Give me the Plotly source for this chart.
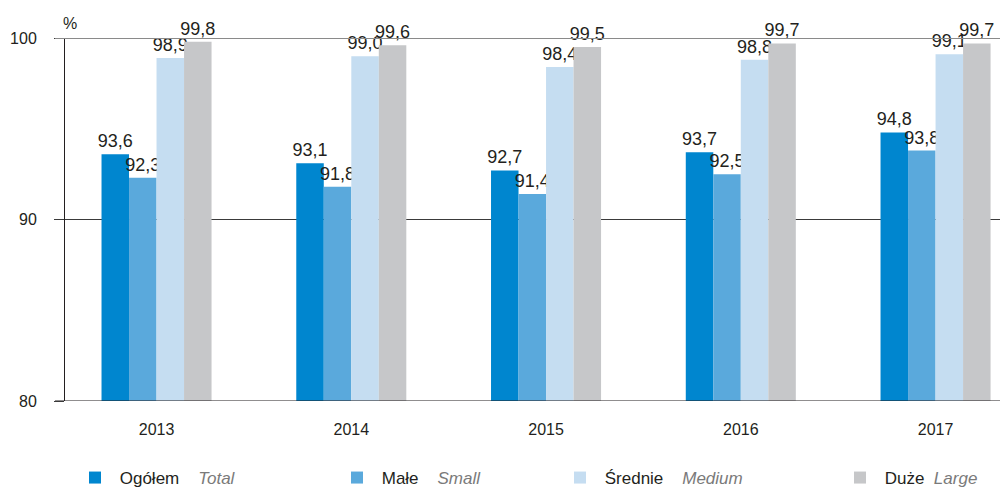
import plotly.graph_objects as go

years = ["2013", "2014", "2015", "2016", "2017"]
ogolem = [93.6, 93.1, 92.7, 93.7, 94.8]
male = [92.3, 91.8, 91.4, 92.5, 93.8]
srednie = [98.9, 99.0, 98.4, 98.8, 99.1]
duze = [99.8, 99.6, 99.5, 99.7, 99.7]

series_pl = ["Ogółem", "Małe", "Średnie", "Duże"]
series_en = ["Total", "Small", "Medium", "Large"]
colors = ["#0086cf", "#5aa9dc", "#c5ddf1", "#c6c7c9"]
values = [ogolem, male, srednie, duze]

FONT = "Liberation Sans, Arial, sans-serif"
TXT = "#231f20"

# page body has an 8px margin, so the figure is sized/placed accordingly
W, H = 1000, 481
L, R, T, B = 57, 0, 30, 88
pw = W - L - R
ph = H - T - B

legend_px = [67, 329, 552, 832]
gaps = [4, 4, 4, 2]

fig = go.Figure()
for i in range(4):
    lg = "legend" if i == 0 else f"legend{i+1}"
    sp = "\u00a0" * gaps[i]
    fig.add_trace(go.Bar(
        x=years, y=values[i],
        name=f"\u00a0{series_pl[i]}{sp}<span style='color:#7a7a7a'><i>{series_en[i]}</i></span>",
        marker=dict(color=colors[i], line=dict(width=0)),
        texttemplate="%{y:.1f}",
        textposition="outside",
        textfont=dict(family=FONT, size=18, color=TXT),
        constraintext="none",
        cliponaxis=False,
        legend=lg,
    ))

layout_legends = {}
for i in range(4):
    key = "legend" if i == 0 else f"legend{i+1}"
    layout_legends[key] = dict(
        x=(legend_px[i] - L) / pw, xanchor="left",
        y=-(470 - (T + ph)) / ph, yanchor="middle",
        orientation="h",
        font=dict(family=FONT, size=17, color=TXT),
        bgcolor="rgba(0,0,0,0)", borderwidth=0,
    )

fig.update_layout(
    width=W, height=H,
    margin=dict(l=L, r=R, t=T, b=B, pad=0, autoexpand=False),
    paper_bgcolor="white", plot_bgcolor="white",
    barmode="group", bargap=0.435, bargroupgap=0,
    separators=", ",
    font=dict(family=FONT, size=16, color=TXT),
    showlegend=True,
    **layout_legends,
    xaxis=dict(
        range=[-0.47, 4.372],
        showgrid=False, ticks="", showline=False,
        tickfont=dict(family=FONT, size=16, color=TXT),
        ticklabelstandoff=17,
        zeroline=False,
    ),
    yaxis=dict(
        range=[80, 100],
        tickvals=[80, 90, 100], ticktext=["80", "90", "100"],
        showgrid=True, gridcolor="#3a3a3a", gridwidth=1,
        ticks="outside", ticklen=10, tickcolor="#3a3a3a", tickwidth=1,
        showline=True, linecolor="#231f20", linewidth=1,
        tickfont=dict(family=FONT, size=16, color=TXT),
        ticklabelstandoff=14,
        zeroline=False,
    ),
    shapes=[
        dict(type="line", xref="paper", yref="y", x0=-10 / pw, x1=1, y0=100, y1=100,
             line=dict(color="#8a8a8a", width=2), layer="above"),
        dict(type="line", xref="paper", yref="y", x0=-10 / pw, x1=1, y0=80, y1=80,
             line=dict(color="#231f20", width=1.2), layer="above"),
    ],
    annotations=[
        dict(text="%", xref="paper", yref="y", x=-4 / pw, y=100, xanchor="left",
             yanchor="bottom", yshift=4, showarrow=False,
             font=dict(family=FONT, size=16, color=TXT)),
    ],
)

fig.write_html("out.html")
